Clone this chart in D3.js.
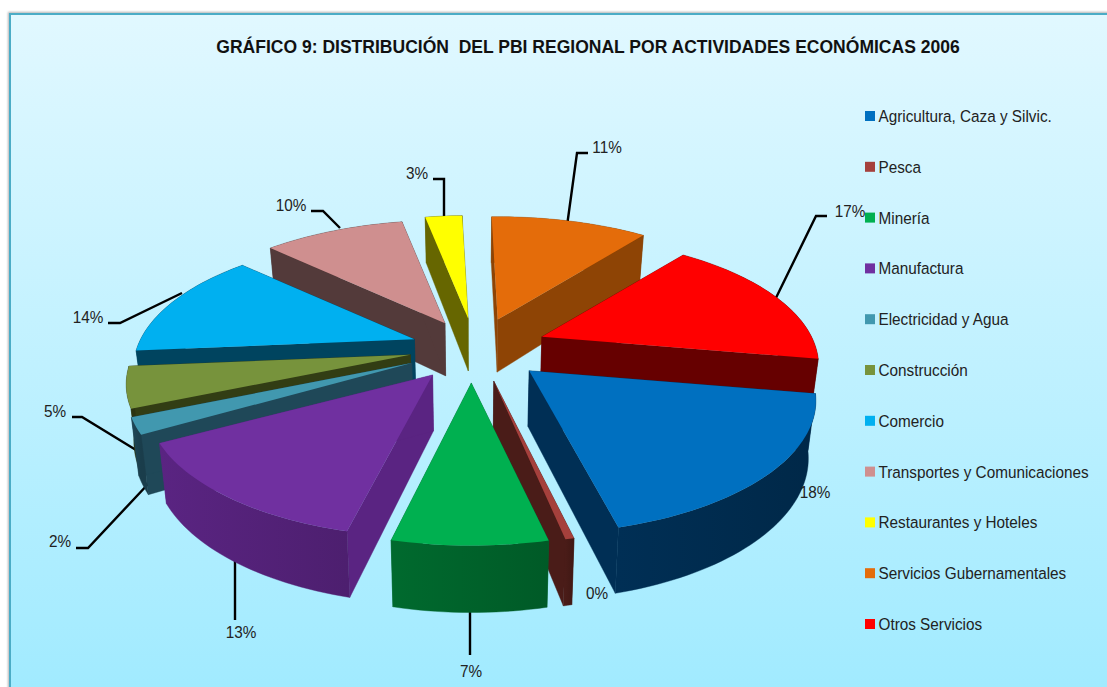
<!DOCTYPE html>
<html><head><meta charset="utf-8">
<script src="https://d3js.org/d3.v7.min.js"></script>
<style>
html,body{margin:0;padding:0;background:#fff;overflow:hidden}
svg{display:block}
text{font-family:"Liberation Sans","Arial Narrow",sans-serif;white-space:pre}
</style></head><body><svg id="c" width="1107" height="687"></svg>
<script>
const titleText = "GRÁFICO 9: DISTRIBUCIÓN  DEL PBI REGIONAL POR ACTIVIDADES ECONÓMICAS 2006";
const categories = ["Agricultura, Caza y Silvic.","Pesca","Minería","Manufactura","Electricidad y Agua","Construcción","Comercio","Transportes y Comunicaciones","Restaurantes y Hoteles","Servicios Gubernamentales","Otros Servicios"];
const values = [18.2, 0.4, 7.1, 13.1, 2, 5, 13.5, 9.9, 2.6, 11, 17.2];
const percentLabels = ["18%","0%","7%","13%","2%","5%","14%","10%","3%","11%","17%"];
const topColors = ["#0070c0","#a5403c","#00b050","#7030a0","#4198af","#77933c","#00b0f0","#cf8f8f","#ffff00","#e46c0a","#ff0000"];
const wallColors = ["#002f55","#4a1c18","#006a2e","#5a2482","#1f4858","#323d14","#00445f","#533a3a","#666600","#8e4405","#660000"];
// per-slice layout: how far each slice is pulled out, small fits of radius, rotation (degrees) and apex position
const explodeFit = [.255,.24,.24,.225,.225,.215,.215,.235,.24,.25,.255];
const radiusFit  = [1.005,1,1,1,1,.996,.985,1,1,1,.97];
const rotateFit  = [0,1.45,.5,1.4,0,0,0,0,0,0,0];
const nudgeX = [2,4,-2,-2,-4,-4,-3,2,2,4,4];
const nudgeY = [-2,0,1,1,0,-2,-2,-2,-3,-2,-2];
// label layout: label centre, then leader polyline
const labelLayout = [
 {at:[815,492],line:null},
 {at:[597,593],line:null},
 {at:[471,671],line:[[470,606],[470,655]]},
 {at:[241,632],line:[[235,555],[235,620]]},
 {at:[60,541],line:[[150,482],[88,548],[76,548]]},
 {at:[55,411],line:[[136,450],[82,417],[72,417]]},
 {at:[88,317],line:[[182,293],[120,323],[108,323]]},
 {at:[291,205],line:[[340,228],[323,211],[311,211]]},
 {at:[417,173],line:[[444,220],[444,179],[433,179]]},
 {at:[607,147],line:[[567,226],[577,153],[588,153]]},
 {at:[850,211],line:[[772,306],[816,216],[827,216]]}
];

const W=1107,H=687, cx=473, cy=350;
const RX=278, RY=126, PERSP=0.225, BOTTOM_SHRINK=0.978, NARROW=0.9, TITLE_NARROW=0.923;
const svg=d3.select("#c");
const defs=svg.append("defs");
const bg=defs.append("linearGradient").attr("id","bg").attr("x1",0).attr("y1",0).attr("x2",0).attr("y2",1);
bg.append("stop").attr("offset",0).attr("stop-color","#e1f8ff");
bg.append("stop").attr("offset",1).attr("stop-color","#9eeaff");
const sh=defs.append("filter").attr("id","sh").attr("x","-2%").attr("y","-2%").attr("width","104%").attr("height","104%");
sh.append("feDropShadow").attr("dx",-1).attr("dy",-1).attr("stdDeviation",1.2).attr("flood-color","#000").attr("flood-opacity",0.3);
svg.append("rect").attr("x",10).attr("y",14).attr("width",W+20).attr("height",H+20)
  .attr("fill","url(#bg)").attr("stroke","#4bacc6").attr("stroke-width",2).attr("filter","url(#sh)");

const project=(u,v)=>{const k=1-PERSP*v;return [RX*u/k,RY*v/k];};
const depth=d3.scaleLinear().domain([218,530]).range([46,66]);
const pie=d3.pie().sort(null).value(d=>d).startAngle(100*Math.PI/180).endAngle(460*Math.PI/180);
const line=d3.line();
const slices=pie(values).map((d,i)=>{
  const m=(d.startAngle+d.endAngle)/2, e=explodeFit[i], rf=radiusFit[i], rot=rotateFit[i]*Math.PI/180;
  const p=project(e*Math.sin(m),-e*Math.cos(m));
  const apex=[cx+p[0]+nudgeX[i],cy+p[1]+nudgeY[i]];
  const n=Math.max(2,Math.ceil((d.endAngle-d.startAngle)/(1.5*Math.PI/180)));
  const arc=d3.range(n+1).map(j=>{
    const t=d.startAngle+rot+(d.endAngle-d.startAngle)*j/n;
    const q=project(Math.sin(t),-Math.cos(t));
    return [apex[0]+q[0]*rf,apex[1]+q[1]*rf];
  });
  return {i,m,apex,arc};
});
const bottom=pt=>[cx+(pt[0]-cx)*BOTTOM_SHRINK, pt[1]+depth(pt[1])];

// leaders sit behind the pie
labelLayout.forEach(l=>{
  if(l.line) svg.append("path").attr("d",line(l.line)).attr("fill","none").attr("stroke","#000").attr("stroke-width",2.4);
});

const pieG=svg.append("g");
slices.slice().sort((a,b)=>Math.cos(b.m)-Math.cos(a.m)).forEach(s=>{
  const g=pieG.append("g");
  const wall=wallColors[s.i];
  const poly=(pts,c)=>g.append("path").attr("d",line(pts)+"Z").attr("fill",c).attr("stroke",c).attr("stroke-width",0.4);
  const a=s.arc, first=a[0], last=a[a.length-1];
  const xe=d3.extent(a,p=>p[0]);
  const grad=defs.append("linearGradient").attr("id","w"+s.i).attr("gradientUnits","userSpaceOnUse")
    .attr("x1",xe[0]).attr("x2",xe[1]+0.01).attr("y1",0).attr("y2",0);
  grad.append("stop").attr("offset",0).attr("stop-color",wall);
  grad.append("stop").attr("offset",1).attr("stop-color",d3.color(wall).darker(0.45).formatHex());
  // outer curved wall, shaded from left to right
  const outer=()=>poly([...a,...a.slice().reverse().map(bottom)],"url(#w"+s.i+")");
  const cuts=()=>{
    poly([s.apex,first,bottom(first),bottom(s.apex)],wall);
    poly([s.apex,last,bottom(last),bottom(s.apex)],wall);
  };
  // on the far side of the pie the cut walls face the viewer, on the near side the curved wall does
  if(Math.cos(s.m)>0){outer();cuts();}else{cuts();outer();}
  g.append("path").attr("d",line([s.apex,...a])+"Z").attr("fill",topColors[s.i]);
});

const narrowText=(x,y,sx)=>svg.append("text").attr("transform",`translate(${x},${y}) scale(${sx},1)`);
labelLayout.forEach((l,i)=>{
  narrowText(l.at[0],l.at[1]+6,NARROW).attr("text-anchor","middle")
    .attr("font-size",17).attr("fill","#222").text(percentLabels[i]);
});
// legend
const ly=d3.scaleLinear().domain([0,categories.length-1]).range([116,624]);
categories.forEach((c,i)=>{
  svg.append("rect").attr("x",865).attr("y",ly(i)-5).attr("width",10).attr("height",10).attr("fill",topColors[i]);
  narrowText(878.5,ly(i)+6,NARROW).attr("font-size",17).attr("fill","#222").text(c);
});
narrowText(588,53,TITLE_NARROW).attr("text-anchor","middle").attr("font-size",19).attr("font-weight","bold").attr("fill","#111").text(titleText);
</script></body></html>
